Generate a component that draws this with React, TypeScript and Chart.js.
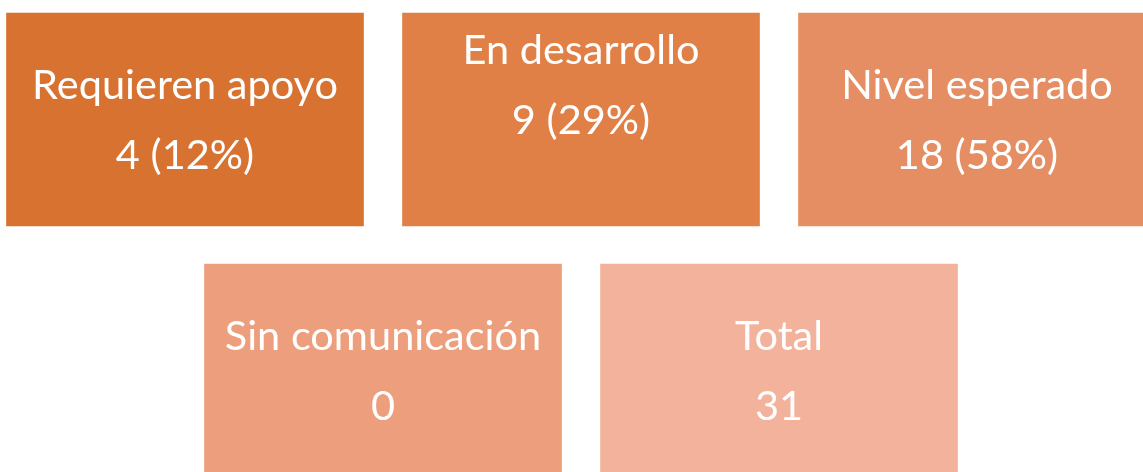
import React, { useEffect, useRef } from "react";
import { Chart, registerables } from "chart.js";

Chart.register(...registerables);

// ---- data ----
const categories = ["Requieren apoyo", "En desarrollo", "Nivel esperado", "Sin comunicación", "Total"];
const counts = [4, 9, 18, 0, 31];
const percents: (number | null)[] = [12, 29, 58, null, null];

// ---- layout (grid slots, not data) ----
const slotCol = [0, 1, 2, 0.5, 1.5];
const slotRow = [0, 0, 0, 1, 1];
const blankLinesAfter = [0, 1, 0, 0, 0];
const boxColors = ["#D87230", "#E07F46", "#E68E63", "#EC9E7D", "#F2B29B"];

const W = 1143;
const H = 472;
const COL_PITCH = 396;
const FIRST_CENTER = 185;
const ROW_PITCH = 251;
const TOP = 13;
const BOX_W = 357;
const BOX_H = 213;
const FONT_SIZE = 41.5;
const LINE_GAP = 70;

const textPlugin = {
  id: "boxText",
  afterDatasetsDraw(chart: any) {
    const ctx = chart.ctx;
    const meta = chart.getDatasetMeta(0);
    ctx.save();
    ctx.fillStyle = "#FFFFFF";
    ctx.textAlign = "center";
    ctx.textBaseline = "alphabetic";
    ctx.font = `${FONT_SIZE}px Lato, "Open Sans", sans-serif`;
    const capH = 28;
    meta.data.forEach((el: any, i: number) => {
      const top = Math.min(el.y, el.base);
      const bottom = Math.max(el.y, el.base);
      const cy = (top + bottom) / 2;
      const valueLine = percents[i] != null ? `${counts[i]} (${percents[i]}%)` : `${counts[i]}`;
      const lines = [categories[i], valueLine];
      for (let k = 0; k < blankLinesAfter[i]; k++) lines.push("");
      const n = lines.length;
      lines.forEach((t, j) => {
        if (!t) return;
        const y = cy + (j - (n - 1) / 2) * LINE_GAP + capH / 2;
        ctx.fillText(t, el.x, y);
      });
    });
    ctx.restore();
  },
};

export default function App() {
  const ref = useRef<HTMLCanvasElement | null>(null);
  useEffect(() => {
    if (!ref.current) return;
    const rowSpan = BOX_H / ROW_PITCH;
    const chart = new Chart(ref.current, {
      type: "bar",
      data: {
        datasets: [
          {
            data: categories.map((_, i) => ({ x: slotCol[i], y: [slotRow[i], slotRow[i] + rowSpan] })) as any,
            backgroundColor: boxColors,
            borderWidth: 0,
            borderSkipped: false,
            barThickness: BOX_W,
            grouped: false,
          } as any,
        ],
      },
      options: {
        animation: false,
        responsive: false,
        maintainAspectRatio: false,
        devicePixelRatio: 1,
        layout: { padding: 0 },
        events: [],
        plugins: { legend: { display: false }, tooltip: { enabled: false }, title: { display: false } },
        scales: {
          x: {
            type: "linear",
            display: false,
            offset: false,
            min: -FIRST_CENTER / COL_PITCH,
            max: (W - FIRST_CENTER) / COL_PITCH,
            grid: { display: false },
          },
          y: {
            type: "linear",
            display: false,
            reverse: true,
            min: -TOP / ROW_PITCH,
            max: (H - TOP) / ROW_PITCH,
            grid: { display: false },
          },
        },
      },
      plugins: [textPlugin],
    });
    return () => chart.destroy();
  }, []);
  return (
    <div style={{ position: "absolute", left: 0, top: 0, width: W, height: H, background: "#FFFFFF" }}>
      <canvas ref={ref} width={W} height={H} style={{ display: "block", width: W, height: H }} />
    </div>
  );
}
